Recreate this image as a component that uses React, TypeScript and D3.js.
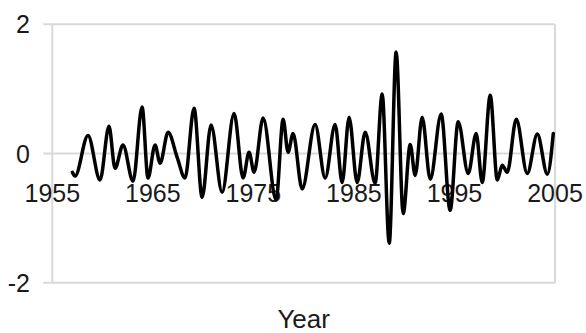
import React from "react";
import * as d3 from "d3";

// Sampled extremes of the series (fractional year, value)
const years: number[] = [
  1957.0, 1957.26, 1958.55, 1959.75, 1960.64, 1961.24, 1962.03, 1963.03, 1963.93, 1964.52,
  1965.22, 1965.72, 1966.52, 1967.42, 1968.2, 1969.1, 1969.9, 1970.79, 1971.89, 1973.08,
  1973.98, 1974.57, 1975.07, 1975.97, 1977.26, 1977.96, 1978.45, 1978.95, 1979.85, 1981.14,
  1982.14, 1983.13, 1983.83, 1984.52, 1985.32, 1986.12, 1987.11, 1987.81, 1988.51, 1989.2,
  1989.9, 1990.6, 1991.09, 1991.79, 1992.59, 1993.68, 1994.57, 1995.37, 1996.37, 1997.16,
  1997.76, 1998.56, 1999.26, 1999.75, 2000.25, 2001.15, 2002.24, 2003.24, 2004.24, 2004.83,
];
const values: number[] = [
  -0.29, -0.35, 0.28, -0.41, 0.42, -0.23, 0.13, -0.43, 0.72, -0.38,
  0.13, -0.15, 0.33, -0.06, -0.38, 0.7, -0.68, 0.44, -0.6, 0.62,
  -0.38, 0.02, -0.29, 0.55, -0.72, 0.53, 0.02, 0.31, -0.55, 0.45,
  -0.38, 0.45, -0.45, 0.56, -0.45, 0.33, -0.46, 0.92, -1.39, 1.57,
  -0.93, 0.14, -0.34, 0.56, -0.4, 0.61, -0.88, 0.49, -0.31, 0.31,
  -0.45, 0.9, -0.41, -0.18, -0.29, 0.53, -0.31, 0.3, -0.32, 0.31,
];
const xTicks: number[] = [1955, 1965, 1975, 1985, 1995, 2005];
const yTicks: number[] = [2, 0, -2];
const xTitle = "Year";

export default function App() {
  const W = 586, H = 333;
  const left = 52.3, right = 555, top = 24.3, bottom = 282.7;
  const x = d3.scaleLinear().domain([1955, 2005]).range([left, right]);
  const y = d3.scaleLinear().domain([-2, 2]).range([bottom, top]);
  const pts = years.map((yr, i) => [yr, values[i]] as [number, number]);
  const line = d3
    .line<[number, number]>()
    .x((d) => x(d[0]))
    .y((d) => y(d[1]))
    .curve(d3.curveMonotoneX);
  const grid = "#d9d9d9";
  const font = "'Liberation Sans', Arial, sans-serif";
  return (
    <svg
      width={W}
      height={H}
      style={{ position: "absolute", left: 0, top: 0, background: "#fff" }}
    >
      {yTicks.map((t) => (
        <line key={"g" + t} x1={left - 9} x2={right} y1={y(t)} y2={y(t)} stroke={grid} strokeWidth={2} />
      ))}
      <line x1={left} x2={left} y1={top} y2={bottom} stroke={grid} strokeWidth={2} />
      <line x1={right} x2={right} y1={top} y2={bottom} stroke={grid} strokeWidth={2} />
      {yTicks.map((t) => (
        <text
          key={"yl" + t}
          x={30}
          y={y(t)}
          textAnchor="end"
          dominantBaseline="central"
          fontFamily={font}
          fontSize={25}
          fill="#1a1a1a"
        >
          {t}
        </text>
      ))}
      {xTicks.map((t) => (
        <text
          key={"xl" + t}
          x={x(t)}
          y={202}
          textAnchor="middle"
          fontFamily={font}
          fontSize={25}
          fill="#1a1a1a"
        >
          {t}
        </text>
      ))}
      <path d={line(pts) || ""} fill="none" stroke="#000" strokeWidth={3.5} strokeLinejoin="round" strokeLinecap="round" />
      <text x={(left + right) / 2} y={328} textAnchor="middle" fontFamily={font} fontSize={26} fill="#1a1a1a">
        {xTitle}
      </text>
    </svg>
  );
}
